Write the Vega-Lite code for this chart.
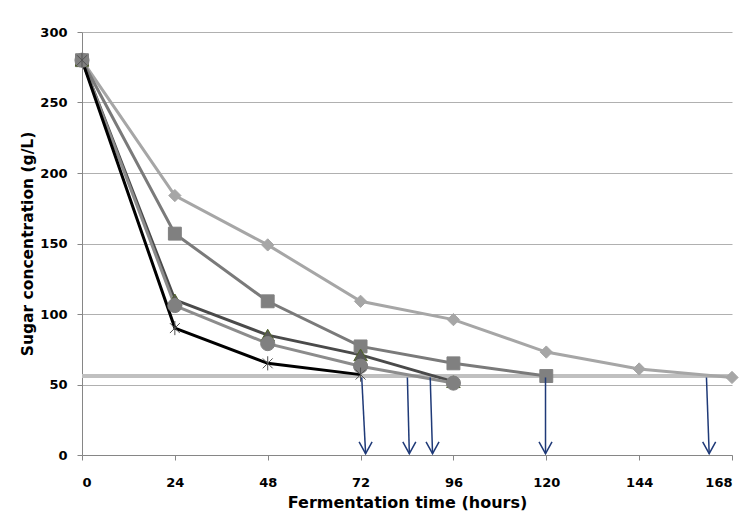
{
  "$schema": "https://vega.github.io/schema/vega-lite/v6.json",
  "width": 650,
  "height": 423,
  "autosize": "none",
  "padding": {"left": 82, "top": 32, "right": 11, "bottom": 57},
  "background": "white",
  "config": {
    "view": {"stroke": null},
    "font": "DejaVu Sans",
    "axis": {
      "labelFont": "DejaVu Sans", "labelFontWeight": "bold", "labelFontSize": 13, "labelColor": "#000000",
      "titleFont": "DejaVu Sans", "titleFontWeight": "bold", "titleFontSize": 16, "titleColor": "#000000",
      "domainColor": "#868686", "tickColor": "#868686", "tickSize": 5, "gridColor": "#b0b0b0"
    }
  },
  "datasets": {
    "series": [
      {"series": "A", "x": 0, "y": 280}, {"series": "A", "x": 24, "y": 184}, {"series": "A", "x": 48, "y": 149}, {"series": "A", "x": 72, "y": 109}, {"series": "A", "x": 96, "y": 96}, {"series": "A", "x": 120, "y": 73}, {"series": "A", "x": 144, "y": 61}, {"series": "A", "x": 168, "y": 55},
      {"series": "B", "x": 0, "y": 280}, {"series": "B", "x": 24, "y": 157}, {"series": "B", "x": 48, "y": 109}, {"series": "B", "x": 72, "y": 77}, {"series": "B", "x": 96, "y": 65}, {"series": "B", "x": 120, "y": 56},
      {"series": "C", "x": 0, "y": 280}, {"series": "C", "x": 24, "y": 110}, {"series": "C", "x": 48, "y": 85}, {"series": "C", "x": 72, "y": 71}, {"series": "C", "x": 96, "y": 52},
      {"series": "D", "x": 0, "y": 280}, {"series": "D", "x": 24, "y": 106}, {"series": "D", "x": 48, "y": 79}, {"series": "D", "x": 72, "y": 63}, {"series": "D", "x": 96, "y": 51},
      {"series": "E", "x": 0, "y": 280}, {"series": "E", "x": 24, "y": 90}, {"series": "E", "x": 48, "y": 65}, {"series": "E", "x": 72, "y": 57}
    ],
    "threshold": [{"x": 0, "y": 56}, {"x": 168, "y": 56}],
    "arrows": [
      {"xt": 72.3, "xb": 73.3, "yt": 55, "yb": 1},
      {"xt": 84.1, "xb": 84.6, "yt": 55, "yb": 1},
      {"xt": 90.0, "xb": 90.6, "yt": 55, "yb": 1},
      {"xt": 119.8, "xb": 119.8, "yt": 55, "yb": 1},
      {"xt": 161.4, "xb": 162.1, "yt": 55, "yb": 1}
    ]
  },
  "layer": [
    {
      "data": {"name": "threshold"},
      "mark": {"type": "line", "color": "#c0c0c0", "strokeWidth": 4},
      "encoding": {
        "x": {"field": "x", "type": "quantitative", "scale": {"domain": [0, 168], "nice": false},
          "axis": {"values": [0, 24, 48, 72, 96, 120, 144, 168], "grid": false, "title": "Fermentation time (hours)", "labelPadding": 16, "titlePadding": 5}},
        "y": {"field": "y", "type": "quantitative", "scale": {"domain": [0, 300], "nice": false},
          "axis": {"values": [0, 50, 100, 150, 200, 250, 300], "grid": true, "title": "Sugar concentration (g/L)", "titleFontSize": 15.5, "labelPadding": 10, "titlePadding": 4}}
      }
    },
    {
      "data": {"name": "series"},
      "mark": {"type": "line", "strokeWidth": 3},
      "encoding": {
        "x": {"field": "x", "type": "quantitative"},
        "y": {"field": "y", "type": "quantitative"},
        "detail": {"field": "series"},
        "color": {"field": "series", "type": "nominal", "legend": null,
          "scale": {"domain": ["A", "B", "C", "D", "E"], "range": ["#a6a6a6", "#7a7a7a", "#4a4a4a", "#8c8c8c", "#000000"]}}
      }
    },
    {
      "data": {"name": "series"},
      "transform": [{"filter": "datum.series !== 'E'"}],
      "mark": {"type": "point", "filled": true, "opacity": 1, "strokeWidth": 1},
      "encoding": {
        "x": {"field": "x", "type": "quantitative"},
        "y": {"field": "y", "type": "quantitative"},
        "shape": {"field": "series", "type": "nominal", "legend": null,
          "scale": {"domain": ["A", "B", "C", "D"], "range": ["diamond", "square", "triangle-up", "circle"]}},
        "size": {"field": "series", "type": "nominal", "legend": null,
          "scale": {"domain": ["A", "B", "C", "D"], "range": [150, 200, 150, 150]}},
        "fill": {"field": "series", "type": "nominal", "legend": null,
          "scale": {"domain": ["A", "B", "C", "D"], "range": ["#a6a6a6", "#808080", "#595959", "#808080"]}},
        "stroke": {"field": "series", "type": "nominal", "legend": null,
          "scale": {"domain": ["A", "B", "C", "D"], "range": ["#a6a6a6", "#808080", "#4f6228", "#808080"]}}
      }
    },
    {
      "data": {"name": "series"},
      "transform": [{"filter": "datum.series === 'E'"}],
      "mark": {"type": "point", "filled": false, "opacity": 1, "strokeWidth": 1, "color": "#505050",
        "shape": "M-0.7,-0.7L0.7,0.7M-0.7,0.7L0.7,-0.7M0,-1L0,1", "size": 200},
      "encoding": {
        "x": {"field": "x", "type": "quantitative"},
        "y": {"field": "y", "type": "quantitative"}
      }
    },
    {
      "data": {"name": "arrows"},
      "mark": {"type": "rule", "color": "#1f3a78", "strokeWidth": 1.5},
      "encoding": {
        "x": {"field": "xt", "type": "quantitative"},
        "x2": {"field": "xb"},
        "y": {"field": "yt", "type": "quantitative"},
        "y2": {"field": "yb"}
      }
    },
    {
      "data": {"name": "arrows"},
      "mark": {"type": "point", "filled": false, "opacity": 1, "strokeWidth": 1.5, "color": "#1f3a78",
        "shape": "M-1,-1.8L0,0L1,-1.8", "size": 169},
      "encoding": {
        "x": {"field": "xb", "type": "quantitative"},
        "y": {"field": "yb", "type": "quantitative"}
      }
    }
  ]
}
